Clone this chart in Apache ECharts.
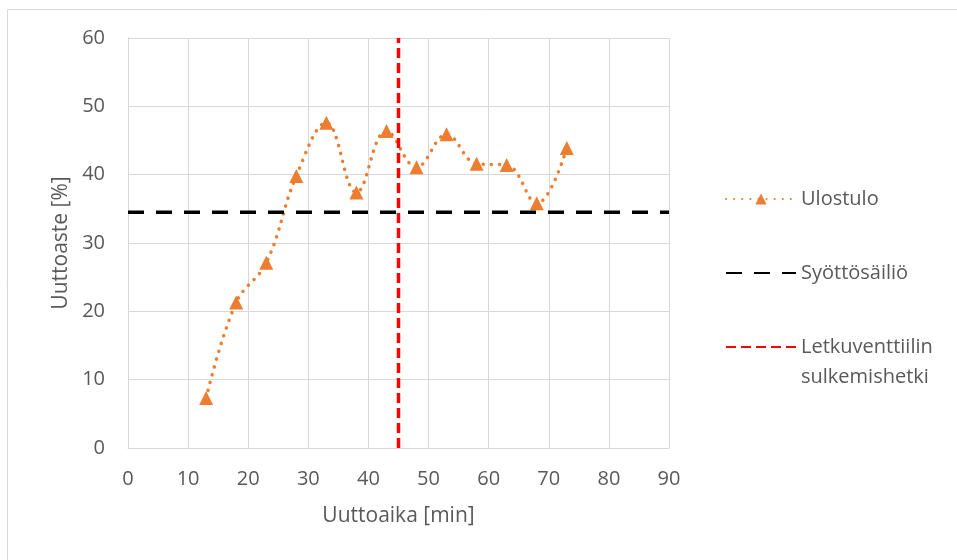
<!DOCTYPE html>
<html>
<head>
<meta charset="utf-8">
<script src="https://cdn.jsdelivr.net/npm/echarts@6/dist/echarts.min.js"></script>
<style>
  html, body { margin: 0; padding: 0; background: #ffffff; }
  #chart { width: 957px; height: 560px; }
</style>
</head>
<body>
<div id="chart"></div>
<script>
// Extraction time (min) and measured extraction yield (%)
const times = [13, 18, 23, 28, 33, 38, 43, 48, 53, 58, 63, 68, 73];
const yields = [7.3, 21.3, 27.1, 39.8, 47.6, 37.4, 46.4, 41.1, 45.9, 41.6, 41.4, 35.8, 43.9];

// Feed tank reference level (%)
const feedLevel = 34.5;
// Moment the hose valve was closed (min)
const valveCloseTime = 45;

// Axis ranges and tick steps
const xRange = [0, 90], xStep = 10;
const yRange = [0, 60], yStep = 10;

const seriesNames = ['Ulostulo', 'Syöttösäiliö', 'Letkuventtiilin\nsulkemishetki'];

const textColor = '#595959';
const gridColor = '#d9d9d9';
const fontFamily = '"Open Sans", "Noto Sans", sans-serif';
const fontSize = 20;
const nameFontSize = 21;

const chart = echarts.init(document.getElementById('chart'), null, { renderer: 'canvas' });

const legendText = { color: textColor, fontFamily: fontFamily, fontSize: fontSize, lineHeight: 20 };
// Hidden marker for the plain reference lines in the legend
const noMarker = { color: 'rgba(0,0,0,0)', borderColor: 'rgba(0,0,0,0)', borderWidth: 0 };

chart.setOption({
  animation: false,
  backgroundColor: '#ffffff',
  graphic: [{
    type: 'rect',
    shape: { x: 7.5, y: 9.5, width: 1000, height: 600 },
    style: { fill: 'none', stroke: gridColor, lineWidth: 1 },
    silent: true,
    z: -10
  }],
  grid: { left: 128, top: 38, width: 541, height: 410, containLabel: false },
  xAxis: {
    type: 'value',
    min: xRange[0], max: xRange[1], interval: xStep,
    name: 'Uuttoaika [min]',
    nameLocation: 'middle',
    nameGap: 58,
    nameTextStyle: { color: textColor, fontFamily: fontFamily, fontSize: nameFontSize },
    axisLine: { show: true, lineStyle: { color: gridColor, width: 1 } },
    axisTick: { show: false },
    axisLabel: { color: textColor, fontFamily: fontFamily, fontSize: fontSize, margin: 21 },
    splitLine: { show: true, lineStyle: { color: gridColor, width: 1 } }
  },
  yAxis: {
    type: 'value',
    min: yRange[0], max: yRange[1], interval: yStep,
    name: 'Uuttoaste [%]',
    nameLocation: 'middle',
    nameGap: 56,
    nameRotate: 90,
    nameTextStyle: { color: textColor, fontFamily: fontFamily, fontSize: nameFontSize },
    axisLine: { show: true, lineStyle: { color: gridColor, width: 1 } },
    axisTick: { show: false },
    axisLabel: { color: textColor, fontFamily: fontFamily, fontSize: fontSize, margin: 23 },
    splitLine: { show: true, lineStyle: { color: gridColor, width: 1 } }
  },
  legend: [{
    orient: 'vertical',
    left: 725,
    top: 189,
    padding: 0,
    itemWidth: 70,
    itemHeight: 14,
    itemGap: 54,
    textStyle: legendText,
    data: [seriesNames[0], { name: seriesNames[1], itemStyle: noMarker }]
  }, {
    orient: 'vertical',
    left: 725,
    top: 302,
    padding: 0,
    itemWidth: 70,
    itemHeight: 14,
    // leading empty line keeps the first text line level with the icon
    formatter: '\n{name}',
    textStyle: { color: textColor, fontFamily: fontFamily, fontSize: fontSize, lineHeight: 30 },
    data: [{ name: seriesNames[2], itemStyle: noMarker }]
  }],
  series: [{
    name: seriesNames[0],
    type: 'line',
    data: times.map((t, i) => [t, yields[i]]),
    smooth: 0.4,
    symbol: 'triangle',
    symbolSize: 14,
    itemStyle: { color: '#ED7D31' },
    lineStyle: { color: '#ED7D31', width: 3.5, type: [0.1, 8], cap: 'round' },
    z: 2
  }, {
    name: seriesNames[1],
    type: 'line',
    data: [[xRange[0], feedLevel], [xRange[1], feedLevel]],
    symbol: 'none',
    itemStyle: { color: '#000000' },
    lineStyle: { color: '#000000', width: 3.5, type: [16, 12] },
    z: 3
  }, {
    name: seriesNames[2],
    type: 'line',
    data: [[valveCloseTime, yRange[0]], [valveCloseTime, yRange[1]]],
    symbol: 'none',
    itemStyle: { color: '#FF0000' },
    lineStyle: { color: '#FF0000', width: 3.5, type: [10, 5] },
    z: 4
  }]
});
</script>
</body>
</html>
